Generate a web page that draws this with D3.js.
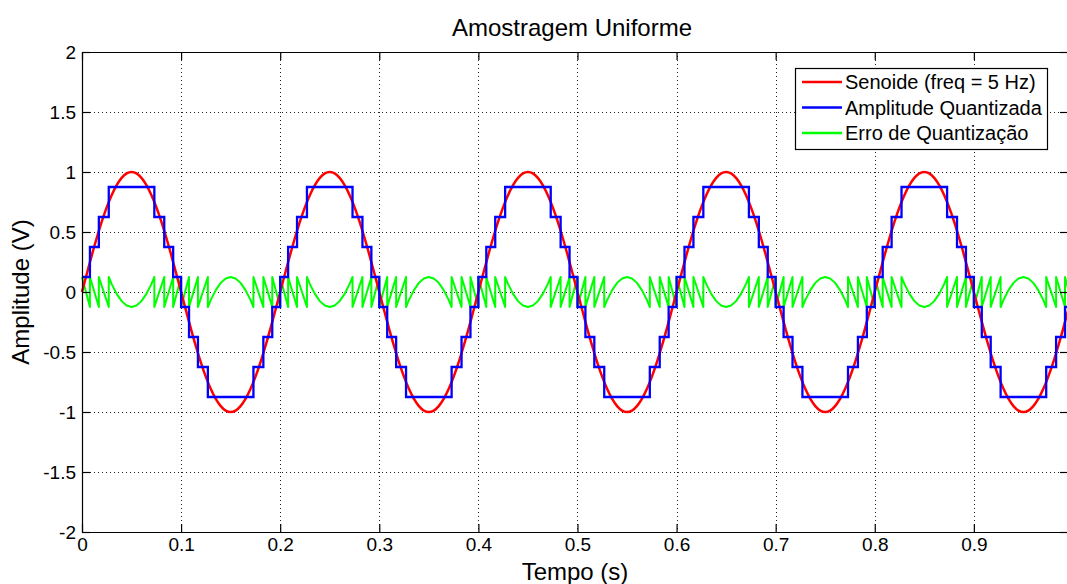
<!DOCTYPE html>
<html>
<head>
<meta charset="utf-8">
<script src="https://cdn.jsdelivr.net/npm/d3@7"></script>
<style>
    body { margin: 0; background: #ffffff; }
    #view1 { width: 1067px; height: 584px; position: relative; overflow: hidden; }
</style>
</head>
<body>
<div id="view1"></div>
<script>
// sine samples, one every passo seconds starting at t = 0
var passo = 0.005;
var senoide = [
    0, 0.156, 0.309, 0.454, 0.588, 0.707, 0.809, 0.891, 0.951, 0.988, 1, 0.988, 0.951, 0.891, 0.809, 0.707, 0.588, 0.454, 0.309, 0.156,
    0, -0.156, -0.309, -0.454, -0.588, -0.707, -0.809, -0.891, -0.951, -0.988, -1, -0.988, -0.951, -0.891, -0.809, -0.707, -0.588, -0.454, -0.309, -0.156,
    0, 0.156, 0.309, 0.454, 0.588, 0.707, 0.809, 0.891, 0.951, 0.988, 1, 0.988, 0.951, 0.891, 0.809, 0.707, 0.588, 0.454, 0.309, 0.156,
    0, -0.156, -0.309, -0.454, -0.588, -0.707, -0.809, -0.891, -0.951, -0.988, -1, -0.988, -0.951, -0.891, -0.809, -0.707, -0.588, -0.454, -0.309, -0.156,
    0, 0.156, 0.309, 0.454, 0.588, 0.707, 0.809, 0.891, 0.951, 0.988, 1, 0.988, 0.951, 0.891, 0.809, 0.707, 0.588, 0.454, 0.309, 0.156,
    0, -0.156, -0.309, -0.454, -0.588, -0.707, -0.809, -0.891, -0.951, -0.988, -1, -0.988, -0.951, -0.891, -0.809, -0.707, -0.588, -0.454, -0.309, -0.156,
    0, 0.156, 0.309, 0.454, 0.588, 0.707, 0.809, 0.891, 0.951, 0.988, 1, 0.988, 0.951, 0.891, 0.809, 0.707, 0.588, 0.454, 0.309, 0.156,
    0, -0.156, -0.309, -0.454, -0.588, -0.707, -0.809, -0.891, -0.951, -0.988, -1, -0.988, -0.951, -0.891, -0.809, -0.707, -0.588, -0.454, -0.309, -0.156,
    0, 0.156, 0.309, 0.454, 0.588, 0.707, 0.809, 0.891, 0.951, 0.988, 1, 0.988, 0.951, 0.891, 0.809, 0.707, 0.588, 0.454, 0.309, 0.156,
    0, -0.156, -0.309, -0.454, -0.588, -0.707, -0.809, -0.891, -0.951, -0.988, -1, -0.988, -0.951, -0.891, -0.809, -0.707, -0.588, -0.454, -0.309, -0.156
];

// quantized amplitude: time where each level starts, and the level
var tQuant = [
    0, 0.008, 0.017, 0.027, 0.073, 0.083, 0.092, 0.100, 0.108, 0.117, 0.127, 0.173, 0.183, 0.192,
    0.200, 0.208, 0.217, 0.227, 0.273, 0.283, 0.292, 0.300, 0.308, 0.317, 0.327, 0.373, 0.383, 0.392,
    0.400, 0.408, 0.417, 0.427, 0.473, 0.483, 0.492, 0.500, 0.508, 0.517, 0.527, 0.573, 0.583, 0.592,
    0.600, 0.608, 0.617, 0.627, 0.673, 0.683, 0.692, 0.700, 0.708, 0.717, 0.727, 0.773, 0.783, 0.792,
    0.800, 0.808, 0.817, 0.827, 0.873, 0.883, 0.892, 0.900, 0.908, 0.917, 0.927, 0.973, 0.983, 0.992,
    0.995
];
var quantizada = [
    0.125, 0.375, 0.625, 0.875, 0.625, 0.375, 0.125, -0.125, -0.375, -0.625, -0.875, -0.625, -0.375, -0.125,
    0.125, 0.375, 0.625, 0.875, 0.625, 0.375, 0.125, -0.125, -0.375, -0.625, -0.875, -0.625, -0.375, -0.125,
    0.125, 0.375, 0.625, 0.875, 0.625, 0.375, 0.125, -0.125, -0.375, -0.625, -0.875, -0.625, -0.375, -0.125,
    0.125, 0.375, 0.625, 0.875, 0.625, 0.375, 0.125, -0.125, -0.375, -0.625, -0.875, -0.625, -0.375, -0.125,
    0.125, 0.375, 0.625, 0.875, 0.625, 0.375, 0.125, -0.125, -0.375, -0.625, -0.875, -0.625, -0.375, -0.125,
    -0.125
];

// quantization error
var tErro = [
    0, 0.008, 0.008, 0.017, 0.017, 0.027, 0.027, 0.030, 0.035, 0.040, 0.045, 0.050, 0.055, 0.060, 0.065, 0.070, 0.073, 0.073, 0.083, 0.083, 0.092, 0.092, 0.100, 0.100,
    0.108, 0.108, 0.117, 0.117, 0.127, 0.127, 0.130, 0.135, 0.140, 0.145, 0.150, 0.155, 0.160, 0.165, 0.170, 0.173, 0.173, 0.183, 0.183, 0.192, 0.192, 0.200,
    0.200, 0.208, 0.208, 0.217, 0.217, 0.227, 0.227, 0.230, 0.235, 0.240, 0.245, 0.250, 0.255, 0.260, 0.265, 0.270, 0.273, 0.273, 0.283, 0.283, 0.292, 0.292, 0.300, 0.300,
    0.308, 0.308, 0.317, 0.317, 0.327, 0.327, 0.330, 0.335, 0.340, 0.345, 0.350, 0.355, 0.360, 0.365, 0.370, 0.373, 0.373, 0.383, 0.383, 0.392, 0.392, 0.400,
    0.400, 0.408, 0.408, 0.417, 0.417, 0.427, 0.427, 0.430, 0.435, 0.440, 0.445, 0.450, 0.455, 0.460, 0.465, 0.470, 0.473, 0.473, 0.483, 0.483, 0.492, 0.492, 0.500, 0.500,
    0.508, 0.508, 0.517, 0.517, 0.527, 0.527, 0.530, 0.535, 0.540, 0.545, 0.550, 0.555, 0.560, 0.565, 0.570, 0.573, 0.573, 0.583, 0.583, 0.592, 0.592, 0.600,
    0.600, 0.608, 0.608, 0.617, 0.617, 0.627, 0.627, 0.630, 0.635, 0.640, 0.645, 0.650, 0.655, 0.660, 0.665, 0.670, 0.673, 0.673, 0.683, 0.683, 0.692, 0.692, 0.700, 0.700,
    0.708, 0.708, 0.717, 0.717, 0.727, 0.727, 0.730, 0.735, 0.740, 0.745, 0.750, 0.755, 0.760, 0.765, 0.770, 0.773, 0.773, 0.783, 0.783, 0.792, 0.792, 0.800,
    0.800, 0.808, 0.808, 0.817, 0.817, 0.827, 0.827, 0.830, 0.835, 0.840, 0.845, 0.850, 0.855, 0.860, 0.865, 0.870, 0.873, 0.873, 0.883, 0.883, 0.892, 0.892, 0.900, 0.900,
    0.908, 0.908, 0.917, 0.917, 0.927, 0.927, 0.930, 0.935, 0.940, 0.945, 0.950, 0.955, 0.960, 0.965, 0.970, 0.973, 0.973, 0.983, 0.983, 0.992, 0.992, 0.995
];
var erro = [
    0.125, -0.125, 0.125, -0.125, 0.125, -0.125, 0.125, 0.066, -0.016, -0.076, -0.113, -0.125, -0.113, -0.076, -0.016, 0.066, 0.125, -0.125, 0.125, -0.125, 0.125, -0.125, 0.125, -0.125,
    0.125, -0.125, 0.125, -0.125, 0.125, -0.125, -0.066, 0.016, 0.076, 0.113, 0.125, 0.113, 0.076, 0.016, -0.066, -0.125, 0.125, -0.125, 0.125, -0.125, 0.125, -0.125,
    0.125, -0.125, 0.125, -0.125, 0.125, -0.125, 0.125, 0.066, -0.016, -0.076, -0.113, -0.125, -0.113, -0.076, -0.016, 0.066, 0.125, -0.125, 0.125, -0.125, 0.125, -0.125, 0.125, -0.125,
    0.125, -0.125, 0.125, -0.125, 0.125, -0.125, -0.066, 0.016, 0.076, 0.113, 0.125, 0.113, 0.076, 0.016, -0.066, -0.125, 0.125, -0.125, 0.125, -0.125, 0.125, -0.125,
    0.125, -0.125, 0.125, -0.125, 0.125, -0.125, 0.125, 0.066, -0.016, -0.076, -0.113, -0.125, -0.113, -0.076, -0.016, 0.066, 0.125, -0.125, 0.125, -0.125, 0.125, -0.125, 0.125, -0.125,
    0.125, -0.125, 0.125, -0.125, 0.125, -0.125, -0.066, 0.016, 0.076, 0.113, 0.125, 0.113, 0.076, 0.016, -0.066, -0.125, 0.125, -0.125, 0.125, -0.125, 0.125, -0.125,
    0.125, -0.125, 0.125, -0.125, 0.125, -0.125, 0.125, 0.066, -0.016, -0.076, -0.113, -0.125, -0.113, -0.076, -0.016, 0.066, 0.125, -0.125, 0.125, -0.125, 0.125, -0.125, 0.125, -0.125,
    0.125, -0.125, 0.125, -0.125, 0.125, -0.125, -0.066, 0.016, 0.076, 0.113, 0.125, 0.113, 0.076, 0.016, -0.066, -0.125, 0.125, -0.125, 0.125, -0.125, 0.125, -0.125,
    0.125, -0.125, 0.125, -0.125, 0.125, -0.125, 0.125, 0.066, -0.016, -0.076, -0.113, -0.125, -0.113, -0.076, -0.016, 0.066, 0.125, -0.125, 0.125, -0.125, 0.125, -0.125, 0.125, -0.125,
    0.125, -0.125, 0.125, -0.125, 0.125, -0.125, -0.066, 0.016, 0.076, 0.113, 0.125, 0.113, 0.076, 0.016, -0.066, -0.125, 0.125, -0.125, 0.125, -0.125, 0.125, 0.031
];

var xTicks = [0, 0.1, 0.2, 0.3, 0.4, 0.5, 0.6, 0.7, 0.8, 0.9];
var yTicks = [-2, -1.5, -1, -0.5, 0, 0.5, 1, 1.5, 2];
var legenda = ["Senoide (freq = 5 Hz)", "Amplitude Quantizada", "Erro de Quantização"];
var cores = ["#ff0000", "#0000ff", "#00ff00"];

var fonte = "'Liberation Sans', Arial, Helvetica, sans-serif";
var margin = { top: 52, right: -1, bottom: 52, left: 82 };
var width = 1067, height = 584;
var graphWidth = width - margin.left - margin.right;
var graphHeight = height - margin.top - margin.bottom;

var svg = d3.select("#view1")
    .append("svg")
    .attr("width", width)
    .attr("height", height);

svg.append("rect")
    .attr("width", width)
    .attr("height", height)
    .attr("fill", "#ffffff");

var svg_g = svg.append("g")
    .attr("transform", `translate(${margin.left},${margin.top})`);

var xScale = d3.scaleLinear()
    .domain([0, 0.995])
    .range([0, graphWidth]);

var yScale = d3.scaleLinear()
    .domain([-2, 2])
    .range([graphHeight, 0]);

// dotted grid
function px(v) { return Math.round(v) + 0.5; }

svg_g.append("g")
    .selectAll("line")
    .data(xTicks.filter(d => d > 0))
    .enter()
    .append("line")
    .attr("x1", d => px(xScale(d)))
    .attr("x2", d => px(xScale(d)))
    .attr("y1", 0)
    .attr("y2", graphHeight)
    .attr("stroke", "#222")
    .attr("stroke-width", 1)
    .attr("stroke-dasharray", "1,3");

svg_g.append("g")
    .selectAll("line")
    .data(yTicks.filter(d => d > -2 && d < 2))
    .enter()
    .append("line")
    .attr("x1", 0)
    .attr("x2", graphWidth)
    .attr("y1", d => px(yScale(d)))
    .attr("y2", d => px(yScale(d)))
    .attr("stroke", "#222")
    .attr("stroke-width", 1)
    .attr("stroke-dasharray", "1,3");

// series
var linhaErro = d3.line()
    .x((d, i) => xScale(tErro[i]))
    .y(d => yScale(d));

var linhaSen = d3.line()
    .x((d, i) => xScale(i * passo))
    .y(d => yScale(d))
    .curve(d3.curveMonotoneX);

var linhaQuant = d3.line()
    .x((d, i) => xScale(tQuant[i]))
    .y(d => yScale(d))
    .curve(d3.curveStepAfter);

svg_g.append("path")
    .datum(erro)
    .attr("fill", "none")
    .attr("stroke", cores[2])
    .attr("stroke-width", 2)
    .attr("stroke-linejoin", "round")
    .attr("d", linhaErro);

svg_g.append("path")
    .datum(senoide)
    .attr("fill", "none")
    .attr("stroke", cores[0])
    .attr("stroke-width", 2.5)
    .attr("stroke-linejoin", "round")
    .attr("d", linhaSen);

svg_g.append("path")
    .datum(quantizada)
    .attr("fill", "none")
    .attr("stroke", cores[1])
    .attr("stroke-width", 2.3)
    .attr("d", linhaQuant);

// axes, ticks pointing inward on all four sides
function estiloEixo(g) {
    g.select(".domain").attr("stroke", "#000").attr("stroke-width", 1.2);
    g.selectAll(".tick line").attr("stroke", "#000").attr("stroke-width", 1.2);
    g.selectAll("text")
        .style("font-family", fonte)
        .style("font-size", "19px")
        .style("fill", "#000");
}

svg_g.append("g")
    .attr("transform", `translate(0,${graphHeight})`)
    .call(d3.axisBottom(xScale).tickValues(xTicks).tickSizeInner(-8).tickSizeOuter(0).tickPadding(6).tickFormat(d => String(d)))
    .call(estiloEixo);

svg_g.append("g")
    .call(d3.axisLeft(yScale).tickValues(yTicks).tickSizeInner(-8).tickSizeOuter(0).tickPadding(6).tickFormat(d => String(d)))
    .call(estiloEixo);

svg_g.append("g")
    .call(d3.axisTop(xScale).tickValues(xTicks).tickSizeInner(-8).tickSizeOuter(0).tickFormat(""))
    .call(estiloEixo);

svg_g.append("g")
    .attr("transform", `translate(${graphWidth},0)`)
    .call(d3.axisRight(yScale).tickValues(yTicks).tickSizeInner(-8).tickSizeOuter(0).tickFormat(""))
    .call(estiloEixo);

// title and labels
svg.append("text")
    .attr("x", 572)
    .attr("y", 36)
    .attr("text-anchor", "middle")
    .text("Amostragem Uniforme")
    .style("font-family", fonte)
    .style("font-size", "24px");

svg.append("text")
    .attr("x", 575)
    .attr("y", 580)
    .attr("text-anchor", "middle")
    .text("Tempo (s)")
    .style("font-family", fonte)
    .style("font-size", "24px");

svg.append("text")
    .attr("transform", `translate(29,${margin.top + yScale(0)}) rotate(-90)`)
    .attr("text-anchor", "middle")
    .text("Amplitude (V)")
    .style("font-family", fonte)
    .style("font-size", "24px");

// legend
var leg = svg.append("g")
    .attr("transform", "translate(795,68)");

leg.append("rect")
    .attr("x", 0.5)
    .attr("y", 0.5)
    .attr("width", 252)
    .attr("height", 81)
    .attr("fill", "#ffffff")
    .attr("stroke", "#000")
    .attr("stroke-width", 1.2);

legenda.forEach((nome, i) => {
    var yy = 14 + i * 25.5;
    leg.append("line")
        .attr("x1", 7)
        .attr("x2", 47)
        .attr("y1", yy)
        .attr("y2", yy)
        .attr("stroke", cores[i])
        .attr("stroke-width", 2.5);
    leg.append("text")
        .attr("x", 50)
        .attr("y", yy + 7)
        .text(nome)
        .style("font-family", fonte)
        .style("font-size", "20px");
});
</script>
</body>
</html>
